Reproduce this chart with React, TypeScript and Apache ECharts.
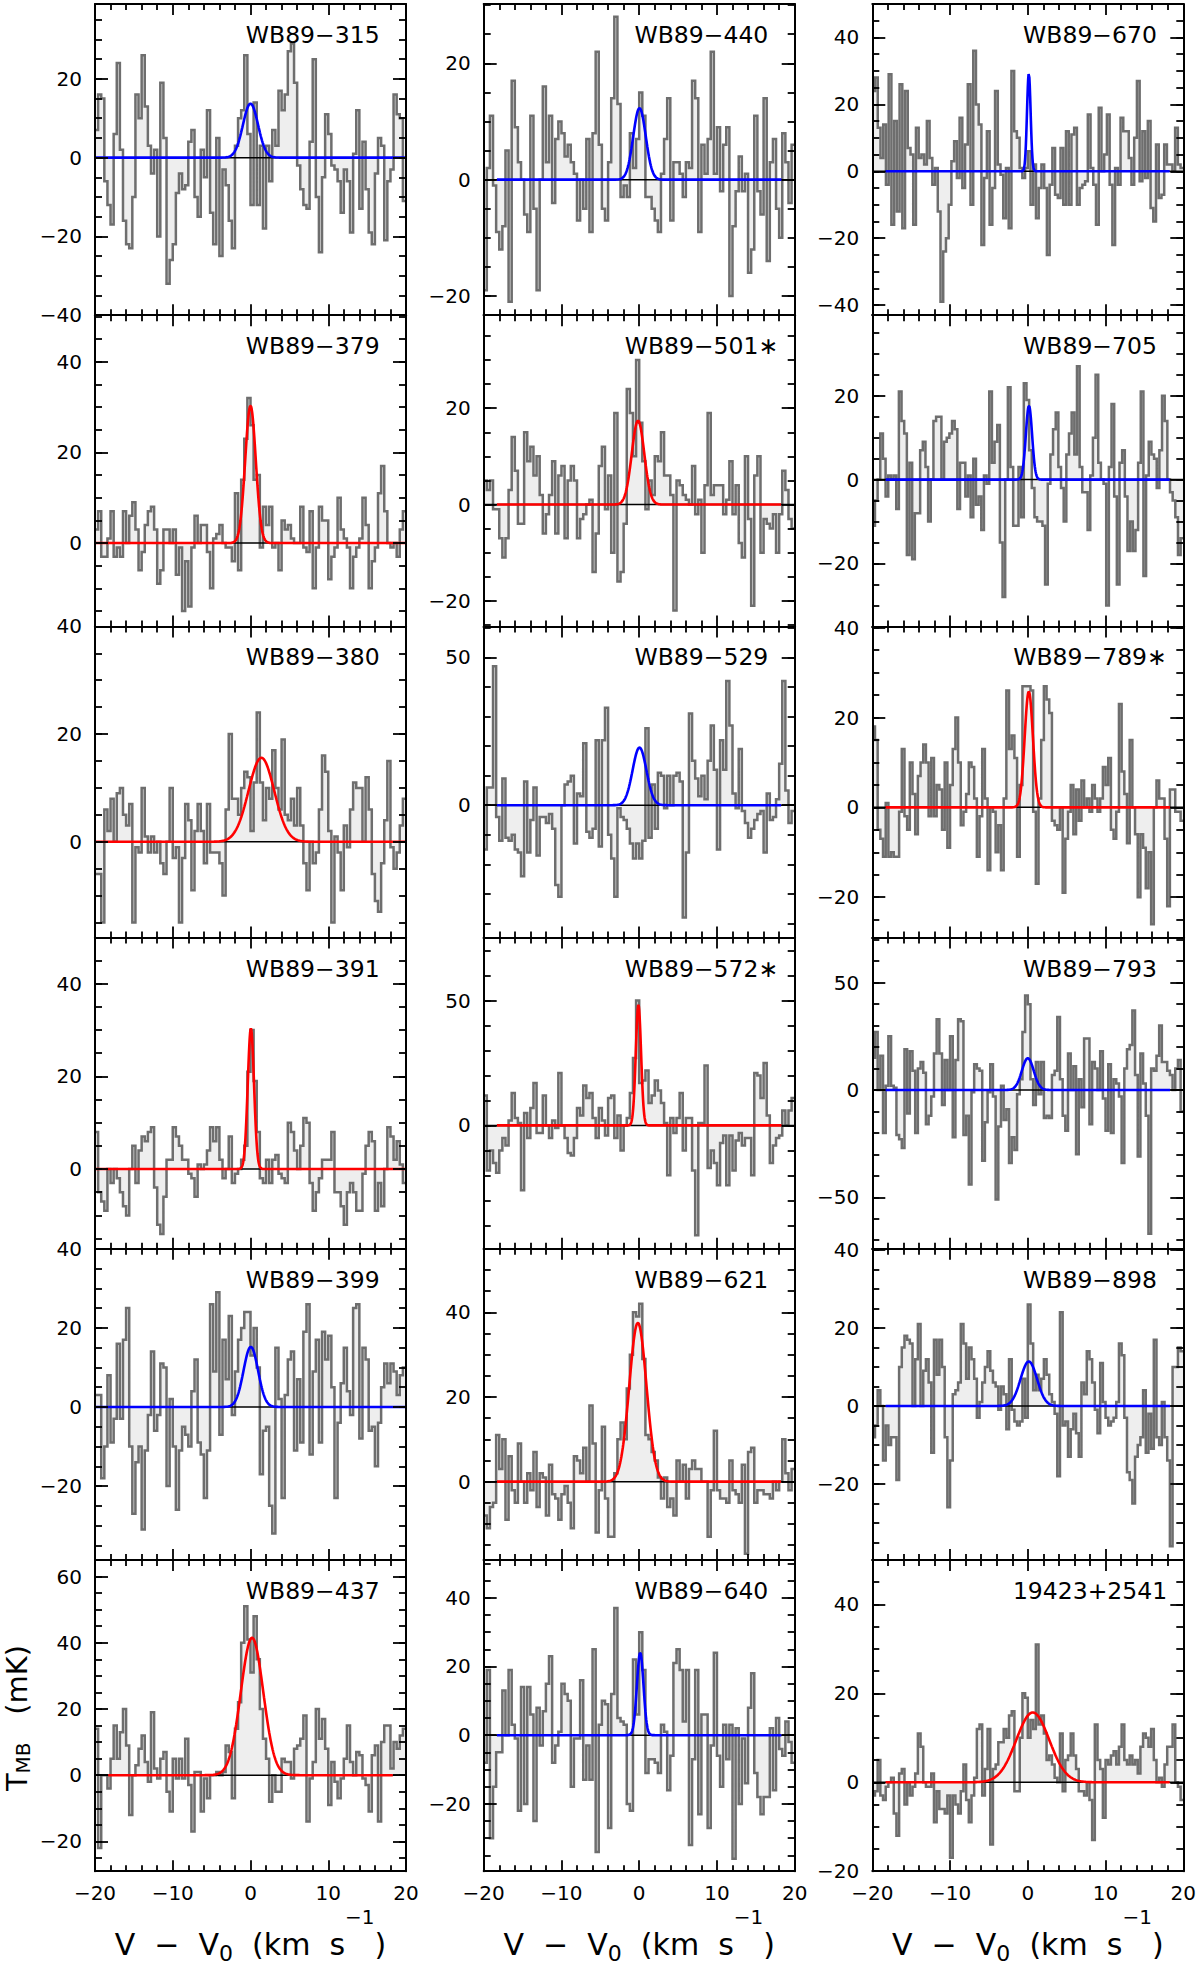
import { useEffect, useRef } from "react";
import * as echarts from "echarts";

// Spectra in mK, channels from left (-20 km/s) to right (+20 km/s)
const wb89_315 = [
  7, 16, 15, -6, -12, -17, 6, 24, 2, -16,
  -22, -23, -10, 16, 10, 26, 13, 3, -4, 2,
  -20, 19, 5, -32, -26, -22, -9, -4, -8, -7,
  4, 7, -10, -15, 2, -5, 12, -14, -22, 5,
  -25, -3, -7, -16, -23, 3, 10, 12, 26, 6,
  -12, 14, -12, 3, -18, 3, -6, 7, 3, 17,
  12, 16, 27, 29, 19, -2, -8, -12, -13, 4,
  25, -10, -24, -5, 11, 6, -2, -3, -6, -14,
  -3, -6, -19, 1, 12, -13, 4, -8, -19, -22,
  -4, 5, 3, -21, -6, -3, 16, 11, 10, -11,
];
const wb89_440 = [
  -19, 2, 11, -1, -9, -12, -8, 5, -21, 17,
  9, 3, 0, -6, -9, 11, -5, -19, 0, 16,
  3, 11, -4, 7, 10, 8, 4, 6, 3, 1,
  -7, 0, -5, 7, -9, 8, 22, 6, -5, -7,
  3, 14, 28, 13, -3, -1, -3, 8, 2, 7,
  15, 11, -3, -3, -5, -7, -9, 1, 7, 14,
  -7, 3, 3, 1, -3, 3, 2, 17, 14, -9,
  6, 1, 7, 22, 1, 9, -2, 6, 9, -20,
  -8, -2, 4, -2, 1, -16, -12, 11, -2, -6,
  14, -14, 3, 7, -5, -10, 8, 3, -4, 6,
];
const wb89_670 = [
  24, 28, 13, 4, 14, -4, 29, -16, 15, -12,
  26, -17, 24, 7, 5, -16, 13, 4, 5, 2,
  15, 4, -4, 1, -12, -39, -24, -20, -10, 3,
  9, -2, 16, -5, 8, 26, -10, 36, 20, 14,
  -22, -2, 12, -16, -5, 24, 2, -1, -14, 1,
  -17, 30, 12, 10, 1, -2, 1, 6, -10, 2,
  -14, -5, 2, -5, -25, -4, 7, -7, -8, 7,
  -10, 12, -10, 11, 13, -10, -5, -4, -3, 17,
  1, -4, -16, 19, 0, 5, 17, -4, -22, 1,
  -4, 16, 12, 12, 4, -4, 10, 27, -3, 12,
  -2, 15, -11, -15, 8, -8, -7, 8, 2, 2,
  0, 13, 2, 1,
];
const wb89_379 = [
  3, 7, -3, -3, 1, 7, -3, -1, -3, 7,
  0, 6, 9, 3, -6, -2, 4, 7, 8, 3,
  -9, -6, 3, 3, 0, 3, -7, -1, -15, -4,
  -14, -1, 6, 0, 4, 4, -2, -10, 1, 2,
  4, 0, -1, -1, -4, 11, -6, 14, 23, 32,
  26, 14, 15, -1, 8, 4, 8, -1, 0, -6,
  5, 3, 4, 1, 0, 0, 8, -1, -2, 7,
  -10, -1, 8, 5, 5, -8, -3, -1, 10, 3,
  1, -1, -10, -3, -1, 1, 10, 4, -10, -4,
  -1, 11, 17, 7, 0, -1, 0, -3, 3, 7,
];
const wb89_501 = [
  5, 3, 5, -1, -1, -7, -11, -7, 3, 14,
  7, -4, -4, 15, 9, 12, 6, 10, 2, -6,
  -2, 2, 9, -6, 6, 8, -7, 5, 8, 5,
  -7, -3, -2, 0, 1, -14, -6, 8, 12, -1,
  6, -10, 19, -16, -14, -4, 24, 19, 10, 30,
  17, 9, -1, 5, 2, 10, 9, 15, 6, 6,
  2, -22, 5, 4, 2, 1, 0, 8, -2, 1,
  -10, 4, 19, 2, 4, 4, 4, -2, 1, 9,
  -2, 4, -8, -11, 10, -3, -21, 6, 10, -10,
  -3, -4, -5, -2, -10, -2, 7, 3, -3, -5,
];
const wb89_705 = [
  -11, -5, 0, 11, 5, -4, 1, 0, 1, -7,
  21, 14, 11, -18, 4, -19, -8, -8, 7, 9,
  3, -10, 0, 14, 15, 15, 0, 9, 10, 11,
  14, 12, -7, 4, 4, -4, 1, -9, 5, -6,
  -4, -12, 1, -1, 21, 4, 9, 13, -15, -28,
  0, 22, 3, -11, -11, 3, -9, 23, 19, 7,
  -2, -9, -10, -10, -11, -25, -1, 6, 12, 16,
  3, -2, -10, 6, 11, 16, 6, 27, 3, -3,
  -3, -12, 1, 10, 25, 4, 0, -1, -30, 3,
  18, -4, -25, 4, 7, -4, -17, -10, -17, -12,
  4, 21, -23, 1, 9, 6, 5, -2, 7, 20,
  14, 0, -3, -5, -9, -18, -14,
];
const wb89_380 = [
  -6, -6, -15, 6, 2, 8, 0, 9, 10, 5,
  3, 7, -15, -1, -2, 10, 1, -2, 1, -2,
  0, -4, -6, 0, 10, -3, -1, -15, -3, 7,
  4, -9, 2, 7, 2, -4, 7, -2, -2, -2,
  -4, -10, 6, 20, 8, 8, 5, 10, 13, 12,
  2, 11, 24, 11, 4, 10, 8, 17, 10, 6,
  19, 5, 4, 8, 3, 10, 3, -4, -9, 0,
  -4, -2, 6, 16, 13, 2, -15, 1, -2, -9,
  3, -1, 6, 11, 10, 10, 0, 12, 6, -6,
  -11, -13, -4, 4, 15, -1, -5, -2, 3, 8,
];
const wb89_529 = [
  -15, 6, 6, 47, -4, -12, 9, -11, -12, -10,
  -15, -16, -24, 8, -16, -5, 6, -17, -4, -4,
  -6, -3, -8, -27, -31, 0, 7, 8, 10, -13,
  4, 3, 21, -9, -11, -8, 22, -14, 22, 33,
  -10, -18, -31, -1, -4, -5, -8, -13, -18, -13,
  -18, -12, 26, -11, 7, -8, 11, 10, -1, 10,
  0, 10, 11, 8, -38, -16, 31, 15, 9, 3,
  10, 2, 15, 27, 12, -15, 22, 12, 42, 27,
  4, -1, 19, -2, -6, -11, -8, -5, -3, -2,
  -16, 4, -5, -4, 2, 14, 42, 5, -6, -2,
];
const wb89_789 = [
  18, 15, -5, -7, -11, 1, -11, -10, -11, -11,
  -1, 13, -2, -5, 10, 3, -6, 7, 10, 14,
  10, -2, 11, -2, 5, 4, -5, 10, -9, 5,
  13, 20, 10, -4, -1, 3, 10, 9, 2, -11,
  -2, 13, 2, -14, 0, -1, -10, -4, -14, 2,
  26, 13, 16, 11, -11, 5, 27, 27, 27, 26,
  -1, -17, 2, 15, 27, 24, 21, -3, -4, -5,
  0, -19, -7, -1, 5, -6, 4, -3, 6, 0,
  2, -1, 5, 2, -1, 2, 9, 5, 11, -5,
  -7, -1, 23, 8, 3, -8, 15, 0, -6, -20,
  -6, -9, -18, -10, -26, 0, 6, 2, 2, -7,
  -22, 4, 4, -1, -1, -3,
];
const wb89_391 = [
  8, -5, -7, -9, 0, -3, 0, -2, -5, -8,
  -10, 0, 5, -3, 4, 7, 6, 8, 9, -4,
  -12, -14, -6, 2, 2, 9, 7, 5, 2, 2,
  -1, -2, -6, 1, 0, 1, 4, 9, 6, 9,
  2, -2, 0, 7, -3, -1, 0, 2, 5, 21,
  30, 19, 8, -2, -3, 2, -3, 2, 3, -1,
  -2, -3, 10, 8, 4, 0, 5, 11, 10, -3,
  -9, -5, -2, 2, 2, 2, 8, -5, -5, -8,
  -12, -5, -3, -5, -9, -9, -1, 5, 8, 6,
  -9, -3, -8, 0, 9, 7, 2, 6, 1, -3,
];
const wb89_572 = [
  12, -18, -10, -15, -19, -10, -5, -8, 2, 13,
  3, 1, -26, 5, -5, 7, 17, -3, -3, 12,
  0, -5, 2, -1, 21, 0, -5, -11, -12, -5,
  7, 4, 16, 11, 13, 3, -5, 7, 2, -4,
  11, 12, -5, 4, -10, 0, 3, 13, 27, 50,
  17, 18, 22, 9, 12, 18, 14, 9, 1, -20,
  3, -3, 3, 13, -10, 3, 3, -18, -44, 1,
  1, 24, -17, -10, -15, -24, -7, -4, -24, -4,
  -18, -6, -3, -8, -5, -5, -20, 21, 20, 11,
  25, 4, -15, -8, -5, -4, 6, 0, 6, 11,
];
const wb89_793 = [
  15, 27, 0, 16, -20, 2, 25, 2, 1, -21,
  -23, -27, 19, -11, 18, 9, -20, 10, 13, 8,
  -16, -12, -3, 17, 33, 17, -7, 14, 0, 25,
  -22, 14, 33, 32, -21, -12, -44, -1, 12, 10,
  9, -33, -15, -1, 12, -3, -51, -17, 2, -14,
  -9, -34, -22, -28, -2, 5, 27, 44, 40, 5,
  -7, 13, -2, 13, -13, -12, -13, 7, 9, 34,
  5, -12, -19, 17, 0, 11, -30, 5, -8, 24,
  24, -16, 13, 10, 0, 18, -4, -19, 12, -20,
  5, 3, -3, -34, 10, 19, 21, 37, 7, -31,
  17, 3, -12, -67, 10, 9, 16, 30, 13, 13,
  9, 7, 0, 10, 14, -10,
];
const wb89_399 = [
  3, 3, -18, -10, 8, -9, -3, 16, -3, 17,
  25, -10, -27, -14, -10, -31, -11, -2, 14, -6,
  -2, 11, 10, -20, 2, -10, -26, -11, -5, -7,
  -10, 4, 12, -9, -12, -23, -11, 26, 9, 29,
  -7, 17, 7, 23, -2, 9, 17, 20, 24, 24,
  13, 20, 10, -17, -6, -5, -25, -32, 15, 2,
  -23, 3, 12, 14, -11, 7, -9, 19, 26, -12,
  9, 17, -9, 19, 12, 18, 5, -23, -4, 6,
  15, 4, -2, 25, 26, -8, 15, 12, -6, -5,
  -15, -4, 5, 11, 6, 11, 9, 3, 8, 10,
];
const wb89_621 = [
  -8, -11, -6, -5, 11, 3, 10, -9, 6, -2,
  -5, 9, 0, -5, 2, -2, 7, -6, 2, 1,
  -8, 4, -3, -4, -9, -3, -1, -5, -11, 6,
  5, 2, 8, 0, 18, 9, -12, -2, 13, -4,
  -13, -13, 2, 10, 14, 10, 22, 30, 40, 39,
  42, 29, 11, 10, 7, 5, 1, -4, 1, -6,
  -4, -8, 5, 0, 4, -4, 3, 5, 3, 3,
  0, 0, -13, -2, 12, -2, -4, -4, -5, 5,
  -2, -3, -5, 4, -17, 7, 8, -5, -2, -2,
  -3, -3, -4, 0, -2, 0, 10, 2, -2, 3,
];
const wb89_898 = [
  -8, -5, 4, 0, -14, -5, -10, -8, -8, -19,
  10, 15, 18, 17, 16, 0, 12, 21, 0, 9,
  12, 6, -12, 17, 8, 17, 10, -8, -26, -14,
  3, 4, 6, 21, 16, 7, 15, 12, 7, -3,
  1, 6, 10, 14, 9, 6, 5, -1, 5, 3,
  -6, 12, -1, -4, -5, -4, 7, -3, 26, 16,
  4, 8, 4, 7, 12, 8, 3, 1, -2, -18,
  24, -5, -4, -13, -6, -2, -7, -13, 6, 3,
  14, 12, 6, -1, -7, 11, 1, -3, -5, -4,
  -3, 1, 16, 13, -3, -17, -19, -25, -13, -10,
  -8, 4, -12, -2, -11, 17, -8, -10, 1, -8,
  -14, -36, 10, 10, 15, 14,
];
const wb89_437 = [
  14, -22, 0, 0, -4, 5, 15, 5, 13, 20,
  9, -12, 0, 3, 8, 12, 4, -2, 19, 2,
  -1, 5, 7, -5, -11, 5, -1, 5, -1, 11,
  -3, -17, 1, 1, -11, -1, -7, 0, 0, 1,
  0, 1, 9, 7, -7, 14, 22, 40, 51, 41,
  31, 48, 35, 20, 11, 5, -8, 0, -5, -5,
  5, 4, 4, -1, 8, 9, 11, 18, -14, -1,
  4, 20, 11, 17, 8, -9, 4, -2, -7, -1,
  5, 15, 4, 0, 7, 6, -1, -3, -11, 6,
  9, -14, 10, 15, 15, 2, 10, 8, 12, 14,
];
const wb89_640 = [
  -8, 19, -30, -15, -5, -5, 13, 0, 19, 3,
  -1, -22, 14, -20, 14, 6, -25, 8, -3, 7,
  15, 23, -8, -3, 1, 15, 12, 10, -15, -1,
  -1, 16, -13, -3, -13, 25, -34, 3, 10, 9,
  -27, 12, 37, 5, 4, 3, -20, -22, 22, 6,
  30, 19, -11, -7, -7, -8, -11, 3, 1, -16,
  -6, 21, 25, 19, 4, 19, -32, -7, 19, -23,
  6, 6, -27, -3, 24, -6, -15, 3, -7, 3,
  -36, 2, -20, -1, -14, 8, 18, -11, -18, -23,
  -18, -18, 2, -16, 5, -4, -6, 4, -2, -8,
];
const iras19423 = [
  -3, -2, 5, -3, -4, -1, 0, 1, -7, -12,
  2, 3, -5, 0, -3, -1, 2, 11, 8, 0,
  -1, -1, 2, -9, -2, -6, -6, -7, -3, -17,
  -3, -5, -7, -2, 4, -4, -9, -3, 1, 12,
  13, -3, 3, 12, -14, 3, 4, 9, 9, 12,
  10, 15, 16, -2, -2, 10, 20, 19, 10, 14,
  12, 31, 13, 15, 11, 5, 6, 4, 1, 0,
  11, -2, 5, 6, 11, 6, 3, -2, -2, -3,
  0, -4, -13, 13, 5, 3, -8, 5, 4, 6,
  7, 4, 8, 13, 5, 4, 6, 4, 5, 2,
  8, 11, 10, 8, 12, 5, 0, 1, -1, 4,
  8, 8, 13, 0, -1, -4,
];

// Panels, row by row (three per row)
const panelNames = [
  "WB89\u2212315", "WB89\u2212440", "WB89\u2212670",
  "WB89\u2212379", "WB89\u2212501\u2217", "WB89\u2212705",
  "WB89\u2212380", "WB89\u2212529", "WB89\u2212789\u2217",
  "WB89\u2212391", "WB89\u2212572\u2217", "WB89\u2212793",
  "WB89\u2212399", "WB89\u2212621", "WB89\u2212898",
  "WB89\u2212437", "WB89\u2212640", "19423+2541",
];
const spectra = [
  wb89_315, wb89_440, wb89_670,
  wb89_379, wb89_501, wb89_705,
  wb89_380, wb89_529, wb89_789,
  wb89_391, wb89_572, wb89_793,
  wb89_399, wb89_621, wb89_898,
  wb89_437, wb89_640, iras19423,
];
const yMin = [-40, -23.3, -43, -18.4, -25.3, -35, -17.8, -44.8, -29, -17.2, -49.4, -74, -38.7, -18.5, -39.5, -29, -39.6, -20];
const yMax = [39, 30.2, 50, 50.3, 39.3, 39.2, 40, 60.5, 40.3, 49.9, 75.2, 71, 40, 55, 40.3, 65, 51, 50];
const yStep = [20, 20, 20, 20, 20, 20, 20, 50, 20, 20, 50, 50, 20, 20, 20, 20, 20, 20];
const velTicks = [-20, -10, 0, 10, 20];

// Gaussian fits: peak (mK), centre (km/s), FWHM (km/s), half extent drawn (km/s)
const fitAmp = [13.7, 12.3, 29.3, 30.3, 17.4, 17.6, 15.6, 19.5, 25.8, 30.3, 48.3, 14.8, 15.2, 37.5, 11.4, 41.5, 24, 15.7];
const fitCenter = [0, 0.04, 0.13, 0, -0.15, 0.15, 1.4, 0.04, 0.13, 0.05, -0.1, 0, 0.04, -0.17, 0.13, 0.2, 0.13, 0.64];
const fitFwhm = [2.3, 1.9, 0.55, 1.6, 1.9, 0.95, 3.9, 2.1, 1.25, 0.95, 0.8, 1.8, 2.2, 2.6, 2.5, 3.4, 1.0, 5.0];
const fitSpan = [20, 18.3, 18.3, 20, 18.3, 18.3, 20, 18.3, 18.3, 20, 18.3, 18.3, 20, 18.3, 18.3, 18.3, 18.3, 18.3];
const fitDetected = [false, false, false, true, true, false, true, false, true, true, true, false, false, true, false, true, false, true];

const FONT = '"DejaVu Sans", sans-serif';
const COL_X = [95, 483.7, 872.3];
const ROW_Y = [4, 315.2, 626.4, 937.6, 1248.8, 1560];
const PANEL_W = 311;
const PANEL_H = 311.2;

const fmt = (v: number) => (v < 0 ? "\u2212" + Math.abs(v) : String(v));

function multiples(lo: number, hi: number, step: number) {
  const out: number[] = [];
  for (let v = Math.ceil(lo / step - 1e-9) * step; v <= hi + 1e-9; v += step) out.push(v);
  return out;
}

type Run = { t: string; size: number; dy: number };

function textRuns(parts: Run[], cx: number, cy: number, rotation: number) {
  const ctx = document.createElement("canvas").getContext("2d")!;
  const widths = parts.map((p) => {
    ctx.font = `${p.size}px ${FONT}`;
    return ctx.measureText(p.t).width;
  });
  const total = widths.reduce((a, b) => a + b, 0);
  let x = -total / 2;
  const children = parts.map((p, k) => {
    const el = {
      type: "text",
      x,
      y: p.dy,
      style: { text: p.t, font: `${p.size}px ${FONT}`, fill: "#000", textAlign: "left", textVerticalAlign: "middle" },
    };
    x += widths[k];
    return el;
  });
  return { type: "group", x: cx, y: cy, rotation, silent: true, children };
}

function buildOption() {
  const grid: any[] = [];
  const xAxis: any[] = [];
  const yAxis: any[] = [];
  const series: any[] = [];
  const graphic: any[] = [];
  const tickLine = { color: "#000", width: 1.8 };
  const frame = { show: true, onZero: false, lineStyle: { color: "#000", width: 2 } };
  const labelFont = { fontFamily: FONT, fontSize: 20, color: "#000" };

  spectra.forEach((spec, i) => {
    const row = Math.floor(i / 3);
    const col = i % 3;
    const left = COL_X[col];
    const top = ROW_Y[row];
    grid.push({ left, top, width: PANEL_W, height: PANEL_H, containLabel: false, outerBoundsMode: "none" });

    const xi = xAxis.length;
    ["bottom", "top"].forEach((pos) =>
      xAxis.push({
        type: "value",
        gridIndex: i,
        position: pos,
        min: velTicks[0],
        max: velTicks[velTicks.length - 1],
        interval: velTicks[1] - velTicks[0],
        z: 10,
        axisLine: frame,
        axisTick: { show: true, inside: true, length: 11, lineStyle: tickLine },
        minorTick: { show: true, splitNumber: 5, length: 6, lineStyle: tickLine },
        splitLine: { show: false },
        minorSplitLine: { show: false },
        axisLabel: { show: pos === "bottom" && row === 5, margin: 12, formatter: fmt, ...labelFont },
      })
    );

    const yi = yAxis.length;
    const step = yStep[i];
    const majors = multiples(yMin[i], yMax[i], step);
    const minors = multiples(yMin[i], yMax[i], step === 50 ? 10 : 5);
    ["left", "right"].forEach((pos) => {
      yAxis.push({
        type: "value",
        gridIndex: i,
        position: pos,
        min: yMin[i],
        max: yMax[i],
        z: 10,
        axisLine: frame,
        axisTick: { show: true, inside: true, length: 13, customValues: majors, lineStyle: tickLine },
        axisLabel: { show: pos === "left", customValues: majors, margin: 13, formatter: fmt, ...labelFont },
        splitLine: { show: false },
      });
      yAxis.push({
        type: "value",
        gridIndex: i,
        position: pos,
        min: yMin[i],
        max: yMax[i],
        z: 10,
        axisLine: { show: false, onZero: false },
        axisTick: { show: true, inside: true, length: 7, customValues: minors, lineStyle: tickLine },
        axisLabel: { show: false },
        splitLine: { show: false },
      });
    });

    const n = spec.length;
    const w = 40 / n;
    const hist: number[][] = spec.map((v, k) => [-20 + k * w, v]);
    hist.push([20, spec[n - 1]]);
    series.push({
      type: "line",
      xAxisIndex: xi,
      yAxisIndex: yi,
      data: hist,
      step: "end",
      symbol: "none",
      silent: true,
      z: 2,
      lineStyle: { color: "#6e6e6e", width: 2.5, join: "miter" },
      areaStyle: { color: "#eeeeee", opacity: 1 },
    });
    series.push({
      type: "line",
      xAxisIndex: xi,
      yAxisIndex: yi,
      data: [[-20, 0], [20, 0]],
      symbol: "none",
      silent: true,
      z: 3,
      lineStyle: { color: "#000", width: 1.5 },
    });

    const span = fitSpan[i];
    const steps = Math.round((2 * span) / 0.05);
    const fit: number[][] = [];
    for (let k = 0; k <= steps; k++) {
      const v = -span + (2 * span * k) / steps;
      const d = (v - fitCenter[i]) / fitFwhm[i];
      fit.push([v, fitAmp[i] * Math.exp(-4 * Math.LN2 * d * d)]);
    }
    series.push({
      type: "line",
      xAxisIndex: xi,
      yAxisIndex: yi,
      data: fit,
      symbol: "none",
      silent: true,
      z: 4,
      lineStyle: { color: fitDetected[i] ? "#ff0000" : "#0000ff", width: 2.6 },
    });

    graphic.push({
      type: "text",
      x: left + 0.7 * PANEL_W,
      y: top + 31,
      silent: true,
      z: 20,
      style: {
        text: panelNames[i],
        font: `23.5px ${FONT}`,
        fill: "#000",
        textAlign: "center",
        textVerticalAlign: "middle",
      },
    });
  });

  [0, 1, 2].forEach((col) =>
    graphic.push(
      textRuns(
        [
          { t: "V  \u2212  V", size: 30, dy: 0 },
          { t: "0", size: 22, dy: 9 },
          { t: "  (km  s", size: 30, dy: 0 },
          { t: "\u22121", size: 20, dy: -27 },
          { t: ")", size: 30, dy: 0 },
        ],
        COL_X[col] + PANEL_W / 2,
        1944,
        0
      )
    )
  );
  graphic.push(
    textRuns(
      [
        { t: "T", size: 29, dy: 0 },
        { t: "MB", size: 20, dy: 5.5 },
        { t: "   (mK)", size: 29, dy: 0 },
      ],
      17,
      1718,
      Math.PI / 2
    )
  );

  return {
    animation: false,
    backgroundColor: "#fff",
    grid,
    xAxis,
    yAxis,
    series,
    graphic,
  };
}

export default function App() {
  const chartRef = useRef<HTMLDivElement>(null);

  useEffect(() => {
    if (!chartRef.current) return;
    const chart = echarts.init(chartRef.current, undefined, { renderer: "svg" });
    chart.setOption(buildOption() as any);
    return () => chart.dispose();
  }, []);

  return (
    <div
      ref={chartRef}
      style={{ position: "absolute", left: 0, top: 0, width: 1200, height: 1969, background: "#fff" }}
    />
  );
}
